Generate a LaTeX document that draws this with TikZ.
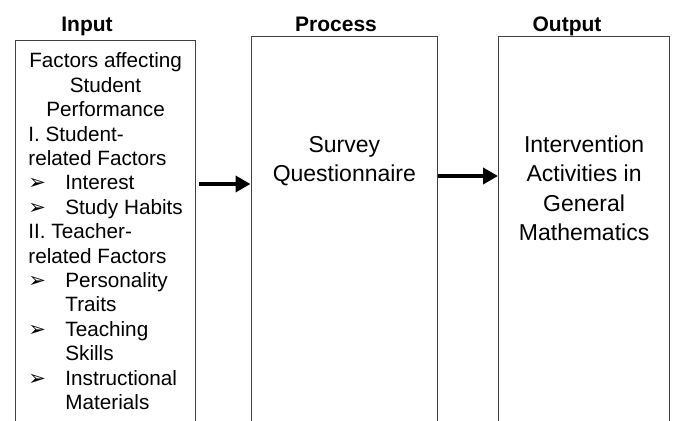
\documentclass[tikz,border=0pt]{standalone}
\usepackage{fontspec}
\setmainfont{Liberation Sans}
\newfontfamily\dvsans{DejaVu Sans}
\usetikzlibrary{arrows.meta}
\newcommand{\arrbul}{{\dvsans\fontsize{10.5}{10}\selectfont\char"27A2}}
\begin{document}
\begin{tikzpicture}[x=0.5pt,y=-0.5pt,
    box/.style={draw=black!75,line width=0.6pt,anchor=north west,inner sep=0pt,minimum height=200pt},
    ttl/.style={font=\fontsize{10.5}{12}\selectfont\bfseries,anchor=base,inner sep=0pt},
    txt/.style={font=\fontsize{11.5}{14.65}\selectfont,align=center,anchor=base,inner sep=0pt},
    flow/.style={-{Triangle[length=7.5pt,width=8pt]},line width=2pt}]
    \clip (0,0) rectangle (675,421);
    % the three boxes, open at the bottom
    \node[box,minimum width=90pt] (inbox) at (15,40) {};
    \node[box,minimum width=93.25pt] (proc) at (250.5,36) {};
    \node[box,minimum width=85.5pt] (outbox) at (498,36) {};
    \node[ttl] (tin) at (87,31.5) {Input};
    \node[ttl] (tproc) at (336,31.5) {Process};
    \node[ttl] (tout) at (567,31.5) {Output};
    % input list
    \node[anchor=base west,inner sep=0pt,font=\fontsize{10.35}{12.2}\selectfont] (intext) at (28,68) {\begin{tabular}[t]{@{}p{18.5pt}@{}l@{}}
        \multicolumn{2}{@{}c@{}}{Factors affecting}\\
        \multicolumn{2}{@{}c@{}}{Student}\\
        \multicolumn{2}{@{}c@{}}{Performance}\\
        \multicolumn{2}{@{}l@{}}{I. Student-}\\
        \multicolumn{2}{@{}l@{}}{related Factors}\\
        \arrbul & Interest\\
        \arrbul & Study Habits\\
        \multicolumn{2}{@{}l@{}}{II. Teacher-}\\
        \multicolumn{2}{@{}l@{}}{related Factors}\\
        \arrbul & Personality\\
        & Traits\\
        \arrbul & Teaching\\
        & Skills\\
        \arrbul & Instructional\\
        & Materials
    \end{tabular}};
    % base = last line here
    \node[txt] (survey) at (proc.north |- 0,181.5) {Survey\\Questionnaire};
    \node[txt] (interv) at (outbox.north |- 0,240.5) {Intervention\\Activities in\\General\\Mathematics};
    % connectors
    \coordinate (a1) at (0,184);
    \coordinate (a2) at (0,176);
    \draw[flow,shorten <=1.5pt] (inbox.east |- a1) -- (proc.west |- a1);
    \draw[flow] (proc.east |- a2) -- (outbox.west |- a2);
\end{tikzpicture}
\end{document}
